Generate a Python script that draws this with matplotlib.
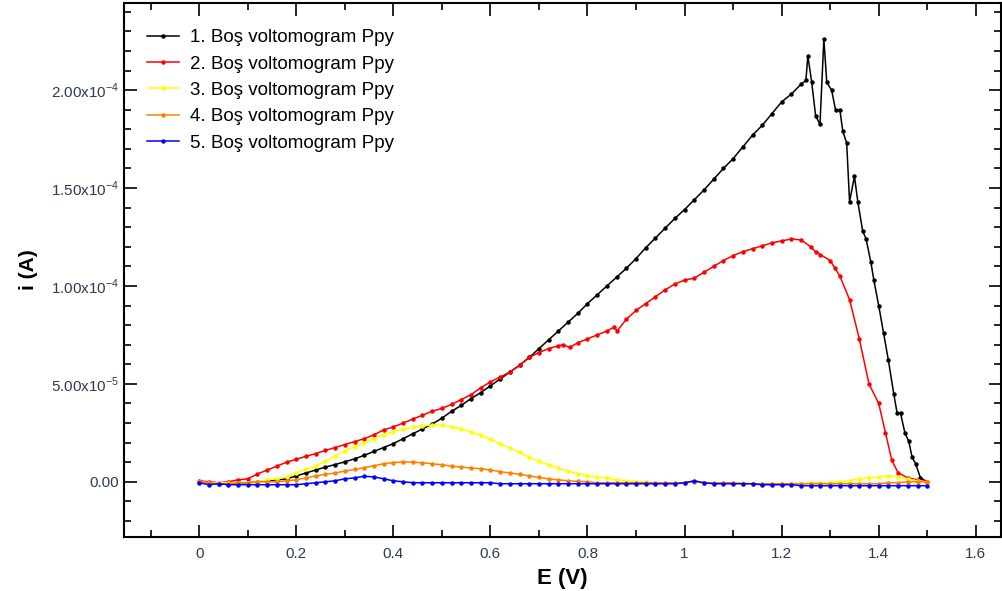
"""
Bos voltomogram Ppy - five successive blank scans, current vs potential.
"""

import numpy as np
import matplotlib
matplotlib.use('Agg')
import matplotlib.pyplot as plt
from matplotlib.ticker import MultipleLocator, FixedLocator, FixedFormatter

plt.rcParams['font.family'] = ['Liberation Sans', 'DejaVu Sans']

# values, current in units of 1e-5 A
e_grid = [0.00, 0.02, 0.04, 0.06, 0.08, 0.10, 0.12, 0.14, 0.16, 0.18,
          0.20, 0.22, 0.24, 0.26, 0.28, 0.30, 0.32, 0.34, 0.36, 0.38,
          0.40, 0.42, 0.44, 0.46, 0.48, 0.50, 0.52, 0.54, 0.56, 0.58,
          0.60, 0.62, 0.64, 0.66, 0.68, 0.70, 0.72, 0.74, 0.76, 0.78,
          0.80, 0.82, 0.84, 0.86, 0.88, 0.90, 0.92, 0.94, 0.96, 0.98,
          1.00, 1.02, 1.04, 1.06, 1.08, 1.10, 1.12, 1.14, 1.16, 1.18,
          1.20, 1.22, 1.24, 1.26, 1.28, 1.30, 1.32, 1.34, 1.36, 1.38,
          1.40, 1.42, 1.44, 1.46, 1.48, 1.50]

e_scan1 = [0.00, 0.02, 0.04, 0.06, 0.08, 0.10, 0.12, 0.14, 0.16, 0.18,
           0.20, 0.22, 0.24, 0.26, 0.28, 0.30, 0.32, 0.34, 0.36, 0.38,
           0.40, 0.42, 0.44, 0.46, 0.48, 0.50, 0.52, 0.54, 0.56, 0.58,
           0.60, 0.62, 0.64, 0.66, 0.68, 0.70, 0.72, 0.74, 0.76, 0.78,
           0.80, 0.82, 0.84, 0.86, 0.88, 0.90, 0.92, 0.94, 0.96, 0.98,
           1.00, 1.02, 1.04, 1.06, 1.08, 1.10, 1.12, 1.14, 1.16, 1.18,
           1.20, 1.22, 1.24, 1.25, 1.254, 1.262, 1.27, 1.279, 1.287, 1.293,
           1.303, 1.311, 1.32, 1.326, 1.334, 1.34, 1.35, 1.357, 1.367, 1.374,
           1.384, 1.39, 1.40, 1.41, 1.42, 1.431, 1.438, 1.445, 1.454, 1.462,
           1.469, 1.476, 1.486, 1.50]
i_scan1 = [0.0, -0.05, -0.1, -0.1, -0.1, -0.05, 0.0, 0.05, 0.1, 0.15,
           0.3, 0.45, 0.6, 0.75, 0.88, 1.02, 1.17, 1.35, 1.55, 1.75,
           1.95, 2.2, 2.45, 2.7, 2.95, 3.25, 3.6, 3.9, 4.25, 4.55,
           4.9, 5.25, 5.6, 5.95, 6.35, 6.8, 7.25, 7.7, 8.15, 8.6,
           9.1, 9.55, 10.0, 10.45, 10.9, 11.4, 11.95, 12.45, 12.95, 13.45,
           13.9, 14.4, 14.9, 15.45, 16.0, 16.5, 17.1, 17.7, 18.2, 18.8,
           19.4, 19.8, 20.3, 20.5, 21.75, 20.4, 18.7, 18.25, 22.6, 20.4,
           20.0, 19.0, 19.0, 17.9, 17.3, 14.3, 15.6, 14.3, 12.8, 12.4,
           11.2, 10.3, 9.0, 7.6, 6.2, 4.5, 3.5, 3.5, 2.5, 2.06,
           1.24, 0.93, 0.2, 0.0]

e_scan2 = [0.00, 0.02, 0.04, 0.06, 0.08, 0.10, 0.12, 0.14, 0.16, 0.18,
           0.20, 0.22, 0.24, 0.26, 0.28, 0.30, 0.32, 0.34, 0.36, 0.38,
           0.40, 0.42, 0.44, 0.46, 0.48, 0.50, 0.52, 0.54, 0.56, 0.58,
           0.60, 0.62, 0.64, 0.66, 0.68, 0.70, 0.72, 0.74, 0.75, 0.763,
           0.78, 0.80, 0.82, 0.84, 0.855, 0.861, 0.88, 0.90, 0.92, 0.94,
           0.96, 0.98, 1.00, 1.02, 1.04, 1.06, 1.08, 1.10, 1.12, 1.14,
           1.16, 1.18, 1.20, 1.22, 1.24, 1.26, 1.27, 1.28, 1.30, 1.31,
           1.32, 1.34, 1.36, 1.38, 1.40, 1.414, 1.427, 1.44, 1.46, 1.48,
           1.50]
i_scan2 = [0.05, 0.0, -0.05, 0.0, 0.1, 0.15, 0.4, 0.6, 0.8, 1.0,
           1.15, 1.3, 1.44, 1.6, 1.75, 1.9, 2.05, 2.2, 2.4, 2.65,
           2.8, 3.0, 3.2, 3.4, 3.6, 3.75, 3.95, 4.2, 4.45, 4.8,
           5.1, 5.35, 5.6, 5.95, 6.35, 6.6, 6.8, 6.95, 7.0, 6.86,
           7.1, 7.3, 7.5, 7.7, 7.9, 7.7, 8.3, 8.75, 9.1, 9.45,
           9.8, 10.1, 10.3, 10.4, 10.7, 11.0, 11.3, 11.55, 11.75, 11.9,
           12.05, 12.2, 12.3, 12.4, 12.35, 12.0, 11.75, 11.6, 11.3, 10.9,
           10.5, 9.3, 7.3, 5.0, 4.0, 2.5, 1.1, 0.46, 0.2, 0.1,
           0.0]

i_scan3 = [0.0, -0.05, -0.05, -0.05, -0.05, -0.05, 0.0, 0.1, 0.15, 0.25,
           0.45, 0.65, 0.8, 1.05, 1.3, 1.58, 1.8, 2.0, 2.2, 2.4,
           2.55, 2.68, 2.78, 2.85, 2.9, 2.88, 2.82, 2.7, 2.55, 2.38,
           2.17, 1.95, 1.72, 1.5, 1.27, 1.05, 0.87, 0.7, 0.55, 0.42,
           0.32, 0.25, 0.18, 0.1, 0.05, 0.0, 0.0, -0.05, -0.05, -0.05,
           -0.05, 0.0, -0.05, -0.05, -0.05, -0.05, -0.05, -0.1, -0.1, -0.1,
           -0.1, -0.1, -0.1, -0.05, -0.05, -0.05, 0.0, 0.05, 0.15, 0.2,
           0.25, 0.3, 0.25, 0.15, 0.05, 0.0]

i_scan4 = [0.0, -0.05, -0.1, -0.1, -0.05, -0.05, 0.0, 0.0, 0.0, 0.05,
           0.1, 0.2, 0.3, 0.38, 0.45, 0.55, 0.63, 0.72, 0.82, 0.92,
           0.98, 1.02, 1.0, 0.97, 0.92, 0.87, 0.8, 0.75, 0.7, 0.67,
           0.6, 0.52, 0.45, 0.38, 0.3, 0.22, 0.15, 0.1, 0.05, 0.02,
           0.0, -0.05, -0.05, -0.05, -0.05, -0.05, -0.05, -0.05, -0.05, -0.05,
           -0.05, 0.0, -0.05, -0.05, -0.05, -0.05, -0.1, -0.1, -0.1, -0.1,
           -0.1, -0.1, -0.1, -0.1, -0.1, -0.1, -0.1, -0.1, -0.1, -0.1,
           -0.1, -0.05, -0.05, 0.0, 0.0, 0.0]

i_scan5 = [-0.05, -0.15, -0.1, -0.15, -0.15, -0.15, -0.15, -0.15, -0.15, -0.15,
           -0.15, -0.1, -0.05, 0.0, 0.05, 0.15, 0.2, 0.28, 0.25, 0.15,
           0.05, 0.0, -0.05, -0.05, -0.05, -0.05, -0.05, -0.05, -0.05, -0.05,
           -0.05, -0.1, -0.1, -0.1, -0.1, -0.1, -0.1, -0.1, -0.1, -0.1,
           -0.1, -0.1, -0.1, -0.1, -0.1, -0.1, -0.1, -0.1, -0.1, -0.1,
           -0.05, 0.05, -0.05, -0.1, -0.1, -0.1, -0.1, -0.1, -0.15, -0.15,
           -0.15, -0.15, -0.2, -0.2, -0.2, -0.2, -0.2, -0.2, -0.2, -0.2,
           -0.2, -0.2, -0.2, -0.2, -0.2, -0.2]

labels = ['1. Boş voltomogram Ppy', '2. Boş voltomogram Ppy', '3. Boş voltomogram Ppy',
          '4. Boş voltomogram Ppy', '5. Boş voltomogram Ppy']
colors = ['#000000', '#ff0000', '#ffff00', '#ff8000', '#0000ff']

y_ticks = [0.0, 5e-5, 1e-4, 1.5e-4, 2e-4]
y_tick_labels = ['0.00', r'5.00x10$^{\mathregular{-5}}$', r'1.00x10$^{\mathregular{-4}}$',
                 r'1.50x10$^{\mathregular{-4}}$', r'2.00x10$^{\mathregular{-4}}$']

series = [(e_scan1, i_scan1), (e_scan2, i_scan2), (e_grid, i_scan3),
          (e_grid, i_scan4), (e_grid, i_scan5)]

fig = plt.figure(figsize=(10.03, 5.91), dpi=100)
ax = fig.add_axes([124 / 1003, 1 - 537 / 591, 877 / 1003, 534 / 591])

for (e, cur), col, lab in zip(series, colors, labels):
    ax.plot(e, np.array(cur) * 1e-5, color=col, lw=1.1, marker='o', ms=2.2,
            mec=col, mfc=col, label=lab)

ax.set_xlim(-0.155, 1.652)
ax.set_ylim(-2.82e-5, 2.445e-4)

ax.xaxis.set_major_locator(FixedLocator([0, 0.2, 0.4, 0.6, 0.8, 1.0, 1.2, 1.4, 1.6]))
ax.xaxis.set_major_formatter(FixedFormatter(['0', '0.2', '0.4', '0.6', '0.8', '1', '1.2', '1.4', '1.6']))
ax.xaxis.set_minor_locator(MultipleLocator(0.1))
ax.yaxis.set_major_locator(FixedLocator(y_ticks))
ax.yaxis.set_major_formatter(FixedFormatter(y_tick_labels))
ax.yaxis.set_minor_locator(MultipleLocator(1e-5))

ax.tick_params(which='both', direction='in', top=True, right=True,
               labelsize=11, labelcolor='#2e3a50', width=1.2)
ax.tick_params(which='major', length=9)
ax.tick_params(which='minor', length=5)
ax.tick_params(axis='x', pad=7)
for sp in ax.spines.values():
    sp.set_linewidth(1.5)

ax.set_xlabel('E (V)', fontsize=16, fontweight='bold', labelpad=5)
ax.set_ylabel('i (A)', fontsize=15, fontweight='bold', labelpad=9)

ax.legend(loc='upper left', bbox_to_anchor=(0.026, 0.951), frameon=False,
          fontsize=13.5, handlelength=1.7, handletextpad=0.6, labelspacing=0.49,
          borderpad=0, borderaxespad=0, numpoints=1)

fig.savefig('out.png', dpi=100)
